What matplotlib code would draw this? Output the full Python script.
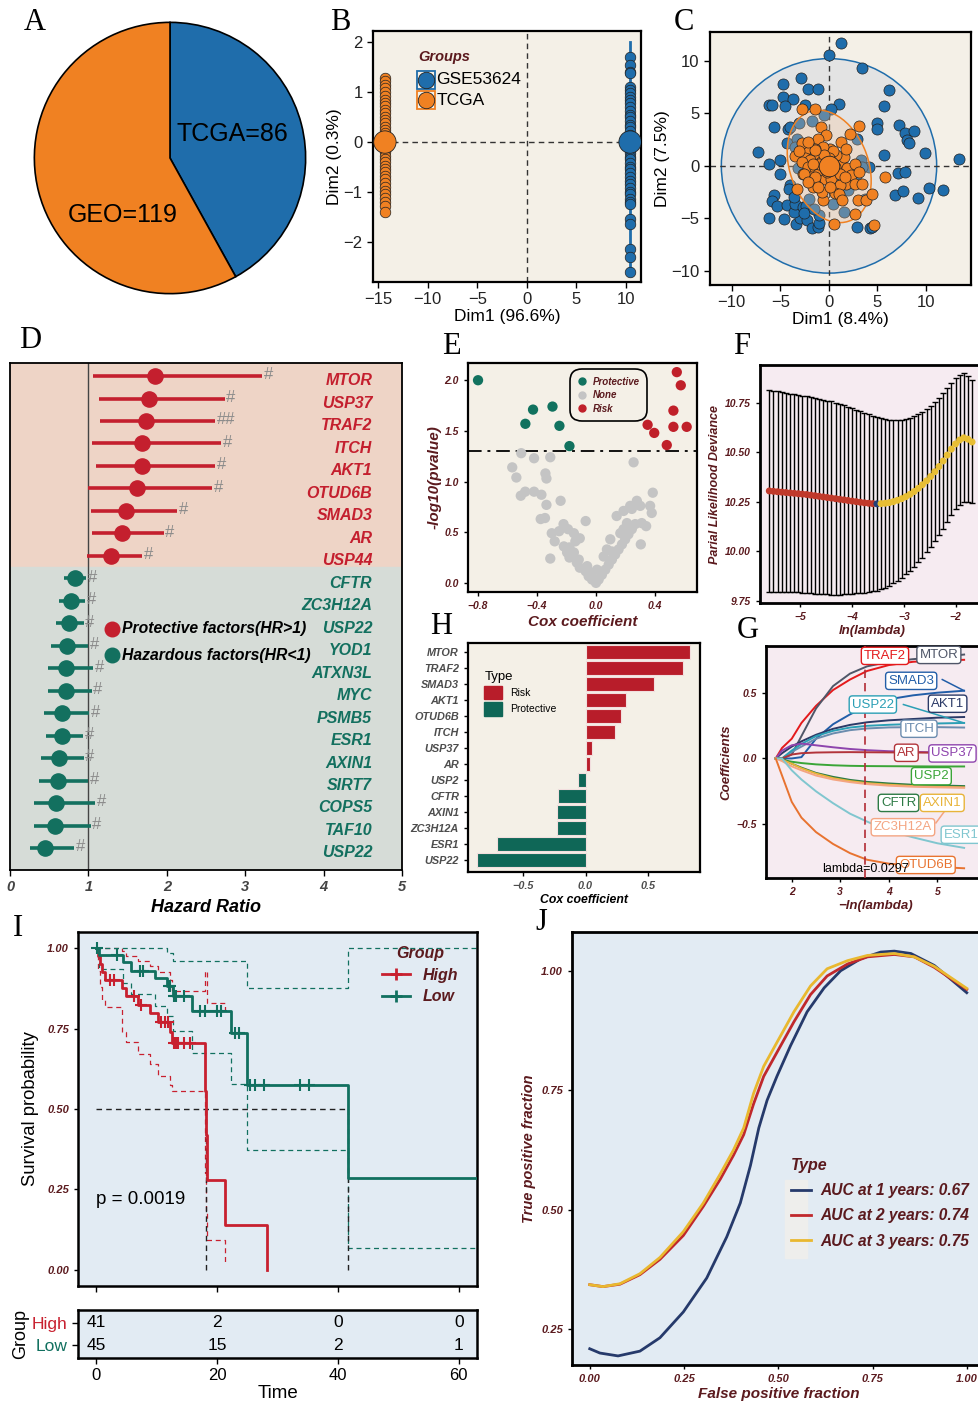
import numpy as np
import matplotlib
matplotlib.use('Agg')
import matplotlib.pyplot as plt
from matplotlib.patches import Ellipse, Rectangle, Patch
from matplotlib.lines import Line2D

plt.rcParams['font.family'] = ['Liberation Sans', 'DejaVu Sans']

# ---------------- data ----------------
# A - sample counts
pie_labels = ['TCGA=86', 'GEO=119']
pie_counts = [86, 119]

# B - PCA before batch correction
b_tcga_dim1 = -14.3
b_gse_dim1 = 10.4
b_tcga_dim2 = [1.28, 1.22, 1.15, 1.08, 1.0, 0.92, 0.85, 0.78, 0.72, 0.65, 0.58, 0.5, 0.45, 0.38,
               0.3, 0.25, 0.18, 0.12, 0.05, -0.02, -0.08, -0.15, -0.2, -0.28, -0.35, -0.4, -0.48,
               -0.55, -0.6, -0.68, -0.75, -0.82, -0.9, -0.98, -1.05, -1.12, -1.2, -1.28, -1.4]
b_gse_dim2 = [1.7, 1.55, 1.4, 1.38, 1.1, 1.05, 0.98, 0.9, 0.85, 0.78, 0.7, 0.62, 0.55, 0.5, 0.42,
              0.35, 0.3, 0.22, 0.15, 0.1, 0.05, -0.02, -0.08, -0.15, -0.22, -0.3, -0.35, -0.42,
              -0.5, -0.55, -0.62, -0.7, -0.78, -0.85, -0.92, -1.0, -1.05, -1.15, -1.2, -1.25,
              -1.55, -1.65, -2.15, -2.3, -2.6]
b_tcga_span = [-1.42, 1.30]
b_gse_span = [-2.65, 2.00]

# C - PCA after batch correction
c_gse_xy = [(1.24, 11.7), (0.03, 10.5), (3.44, 9.27), (-2.82, 8.38), (-4.74, 7.75), (-2.13, 7.27),
            (-1.1, 7.27), (6.22, 7.24), (-4.74, 6.57), (-3.64, 6.32), (-6.19, 5.75), (-5.84, 5.75),
            (-4.54, 5.68), (-2.47, 5.75), (1.03, 5.9), (0.21, 5.4), (5.67, 5.68), (4.95, 4.03),
            (4.98, 3.46), (7.28, 3.9), (7.87, 3.08), (8.8, 3.33), (8.08, 2.44), (8.32, 2.19),
            (-5.64, 3.65), (-4.19, 3.49), (-4.02, 3.71), (-7.29, 1.33), (-5.05, 0.6), (-6.12, 0.16),
            (-4.98, -0.73), (5.7, 1.02), (9.97, 1.24), (13.4, 0.63), (7.18, -0.67), (7.87, -0.54),
            (6.87, -2.73), (7.66, -2.35), (10.38, -2.1), (11.75, -2.25), (9.21, -3.02), (-5.6, -2.73),
            (-5.81, -3.33), (-5.29, -3.81), (-4.33, -3.68), (-6.19, -4.98), (-4.64, -5.08),
            (-3.33, -5.49), (-2.92, -4.92), (-2.27, -5.17), (-1.72, -5.94), (-1.07, -5.81),
            (-0.96, -5.43), (-1.03, -4.7), (-3.57, -4.38), (-3.44, -3.59), (-4.02, -1.84),
            (-4.09, -2.16), (-3.57, -2.95), (-2.65, -3.9), (-2.3, -3.84), (-2.5, -4.48),
            (2.89, -5.78), (4.3, -5.94), (4.47, -5.81), (2.92, 2.54), (1.58, -4.38), (1.79, -1.68),
            (3.37, 0.6), (4.19, -0.1), (1.13, -1.14), (-3.09, 4.03), (-1.72, 4.29), (-0.48, 4.83),
            (-4.26, 2.19), (-3.23, 2.51), (-3.16, -0.16), (-3.44, 1.81), (-1.51, -4.06),
            (-2.06, -3.11), (0.48, -3.59), (3.78, -3.17), (2.78, -1.3), (1.99, -2.32), (3.47, -0.1)]
c_tcga_xy = [(-2.71, 5.4), (-1.37, 5.37), (-0.76, 3.71), (-0.24, 2.92), (-1.1, 2.51), (1.31, 2.25),
             (2.23, 3.02), (3.13, 3.78), (0.1, 1.65), (-0.58, 1.81), (-1.44, 1.56), (-2.47, 1.49),
             (-3.51, 0.92), (-2.41, 0.79), (-1.37, 0.92), (-1.96, 0.54), (-2.75, 0.38), (-2.13, -0.1),
             (-1.37, -0.25), (-0.76, -0.41), (-1.1, -0.79), (-2.61, -0.79), (-1.79, -1.05),
             (-1.24, -1.37), (-0.41, -1.27), (0.27, -1.21), (0.89, -0.41), (1.24, 0.38), (1.58, 0.86),
             (0.79, 1.02), (0.45, 1.43), (1.92, -0.16), (2.34, -0.89), (1.82, -1.68), (2.68, -1.68),
             (3.44, -1.68), (1.13, -1.84), (0.62, -2.57), (1.03, -2.63), (1.37, -3.21), (3.02, -3.21),
             (3.81, -3.21), (4.47, -2.63), (2.68, -4.54), (0.52, -5.49), (4.64, -5.65), (5.77, -1.05),
             (-0.58, -3.27), (-0.65, -2.44), (-1.62, -2.0), (-2.54, -0.79), (-3.3, -2.16),
             (-0.24, 0.22), (0.34, 0.22), (-0.14, -0.57), (-0.76, 0.38), (0.0, 0.7), (-0.48, 1.02),
             (-0.41, -0.25), (0.62, -0.1), (1.13, -0.73), (-1.0, 0.22), (-1.58, 0.22), (-1.37, 1.49),
             (-2.75, 2.13), (-2.13, 2.29), (-3.09, 1.43), (1.82, 1.65), (2.68, 0.22), (3.09, -0.57),
             (0.1, -2.0), (1.65, -1.05), (-1.44, -1.05), (-2.13, -1.52), (-1.1, -2.0)]
c_gse_ellipse = (0.03, 0.0, 22.2, 20.4, 0)      # cx, cy, width, height, angle
c_tcga_ellipse = (0.05, -0.05, 11.2, 8.0, -65)

# D - univariate Cox
d_genes = ['MTOR', 'USP37', 'TRAF2', 'ITCH', 'AKT1', 'OTUD6B', 'SMAD3', 'AR', 'USP44', 'CFTR',
           'ZC3H12A', 'USP22', 'YOD1', 'ATXN3L', 'MYC', 'PSMB5', 'ESR1', 'AXIN1', 'SIRT7',
           'COPS5', 'TAF10', 'USP22']
d_hr = [1.85, 1.77, 1.74, 1.69, 1.69, 1.62, 1.48, 1.43, 1.29, 0.83, 0.78, 0.75, 0.73, 0.72,
        0.72, 0.66, 0.66, 0.62, 0.61, 0.59, 0.57, 0.45]
d_low = [1.06, 1.14, 1.15, 1.05, 1.10, 1.00, 1.03, 1.04, 0.98, 0.69, 0.63, 0.59, 0.52, 0.49,
         0.49, 0.43, 0.46, 0.40, 0.37, 0.31, 0.31, 0.25]
d_high = [3.22, 2.74, 2.62, 2.69, 2.62, 2.58, 2.13, 1.96, 1.69, 0.97, 0.96, 0.94, 1.00, 1.06,
          1.04, 1.01, 0.93, 0.94, 1.00, 1.09, 1.03, 0.82]
d_sig = ['#', '#', '##', '#', '#', '#', '#', '#', '#', '#', '#', '#', '#', '#', '#', '#', '#',
         '#', '#', '#', '#', '#']
d_n_risk = 9

# E - volcano
e_prot = [(-0.80, 2.0), (-0.427, 1.71), (-0.479, 1.57), (-0.295, 1.74), (-0.248, 1.55), (-0.18, 1.35)]
e_risk = [(0.548, 2.08), (0.575, 1.95), (0.525, 1.70), (0.35, 1.56), (0.395, 1.48), (0.525, 1.54),
          (0.615, 1.54), (0.48, 1.36)]
e_none = [(-0.507, 1.28), (-0.42, 1.23), (-0.31, 1.24), (-0.568, 1.14), (-0.54, 1.04), (-0.343, 1.08),
          (-0.336, 1.03), (-0.51, 0.86), (-0.48, 0.90), (-0.42, 0.90), (-0.37, 0.87), (-0.336, 0.77),
          (-0.24, 0.81), (-0.375, 0.63), (-0.346, 0.64), (-0.22, 0.58), (-0.25, 0.51), (-0.30, 0.49),
          (-0.28, 0.41), (-0.31, 0.24), (-0.07, 0.61), (-0.19, 0.53), (-0.15, 0.49), (-0.11, 0.44),
          (-0.14, 0.41), (-0.18, 0.35), (-0.15, 0.30), (-0.18, 0.25), (-0.13, 0.20), (-0.11, 0.15),
          (-0.07, 0.115), (-0.05, 0.066), (-0.027, 0.033), (0.0, 0.0), (0.018, 0.033), (0.04, 0.08),
          (0.063, 0.13), (0.086, 0.18), (0.108, 0.23), (0.13, 0.28), (0.153, 0.33), (0.108, 0.31),
          (0.176, 0.38), (0.198, 0.43), (0.22, 0.48), (0.243, 0.53), (0.266, 0.58), (0.14, 0.66),
          (0.187, 0.71), (0.232, 0.76), (0.277, 0.81), (0.243, 0.73), (0.30, 0.76), (0.367, 0.76),
          (0.385, 0.89), (0.378, 0.69), (0.31, 0.59), (0.34, 0.56), (0.304, 0.38), (0.255, 1.19),
          (0.097, 0.43), (0.074, 0.33), (0.052, 0.26), (0.187, 0.53), (0.21, 0.59), (0.165, 0.49),
          (0.007, 0.13), (-0.027, 0.10), (-0.06, 0.165), (-0.117, 0.23), (-0.196, 0.30), (-0.218, 0.36)]
e_cutoff = 1.3

# F - LASSO cross validation
f_loglam = [-5.60, -5.52, -5.44, -5.36, -5.28, -5.20, -5.12, -5.04, -4.96, -4.88, -4.80, -4.72,
            -4.64, -4.56, -4.48, -4.40, -4.32, -4.24, -4.16, -4.08, -4.00, -3.92, -3.84, -3.76,
            -3.68, -3.60, -3.52, -3.44, -3.36, -3.28, -3.20, -3.12, -3.04, -2.96, -2.88, -2.80,
            -2.72, -2.64, -2.56, -2.48, -2.40, -2.32, -2.24, -2.16, -2.08, -2.00, -1.92, -1.84,
            -1.76, -1.68]
f_mean = [10.305, 10.303, 10.301, 10.299, 10.297, 10.295, 10.293, 10.291, 10.289, 10.287, 10.284,
          10.281, 10.278, 10.275, 10.272, 10.269, 10.266, 10.263, 10.260, 10.257, 10.254, 10.251,
          10.248, 10.245, 10.243, 10.241, 10.240, 10.241, 10.243, 10.246, 10.251, 10.258, 10.266,
          10.276, 10.288, 10.302, 10.318, 10.336, 10.356, 10.378, 10.402, 10.428, 10.456, 10.486,
          10.516, 10.542, 10.562, 10.573, 10.566, 10.552]
f_sd = [0.510, 0.508, 0.506, 0.504, 0.502, 0.500, 0.499, 0.498, 0.497, 0.496, 0.495, 0.494, 0.493,
        0.491, 0.489, 0.487, 0.484, 0.481, 0.477, 0.473, 0.468, 0.463, 0.458, 0.453, 0.448, 0.443,
        0.438, 0.432, 0.426, 0.419, 0.412, 0.405, 0.398, 0.391, 0.385, 0.379, 0.373, 0.367, 0.361,
        0.356, 0.351, 0.346, 0.341, 0.337, 0.333, 0.330, 0.327, 0.325, 0.318, 0.310]

# G - LASSO coefficient paths
g_x = [1.67, 1.8, 2.0, 2.2, 2.5, 2.85, 3.2, 3.55, 4.0, 4.5, 5.0, 5.55]
g_paths = {
    'TRAF2': [0, 0.08, 0.15, 0.27, 0.40, 0.52, 0.60, 0.665, 0.71, 0.735, 0.745, 0.75],
    'MTOR': [0, 0, 0.03, 0.17, 0.38, 0.55, 0.645, 0.70, 0.735, 0.755, 0.77, 0.79],
    'SMAD3': [0, 0, 0, 0.01, 0.15, 0.26, 0.335, 0.40, 0.45, 0.48, 0.50, 0.515],
    'AKT1': [0, 0.04, 0.09, 0.13, 0.18, 0.225, 0.255, 0.275, 0.29, 0.30, 0.31, 0.315],
    'ITCH': [0, 0, 0.05, 0.09, 0.15, 0.19, 0.215, 0.228, 0.236, 0.238, 0.238, 0.235],
    'USP22': [0, 0, 0.06, 0.11, 0.17, 0.21, 0.235, 0.248, 0.256, 0.262, 0.266, 0.27],
    'USP37': [0, 0.06, 0.10, 0.113, 0.10, 0.085, 0.072, 0.063, 0.055, 0.05, 0.046, 0.043],
    'AR': [0, 0, 0.03, 0.04, 0.045, 0.047, 0.048, 0.047, 0.046, 0.045, 0.044, 0.043],
    'USP2': [0, -0.01, -0.025, -0.035, -0.045, -0.052, -0.056, -0.058, -0.059, -0.06, -0.061, -0.061],
    'CFTR': [0, 0, -0.04, -0.07, -0.11, -0.14, -0.163, -0.178, -0.19, -0.2, -0.205, -0.21],
    'AXIN1': [0, -0.01, -0.04, -0.075, -0.115, -0.15, -0.172, -0.188, -0.2, -0.21, -0.216, -0.22],
    'ZC3H12A': [0, -0.02, -0.06, -0.09, -0.13, -0.16, -0.18, -0.195, -0.207, -0.215, -0.22, -0.223],
    'ESR1': [0, 0, -0.09, -0.16, -0.25, -0.34, -0.42, -0.48, -0.55, -0.60, -0.645, -0.68],
    'OTUD6B': [0, -0.13, -0.33, -0.45, -0.56, -0.65, -0.72, -0.77, -0.80, -0.815, -0.825, -0.835],
}
g_label_pos = {'TRAF2': (3.92, 0.78), 'MTOR': (5.03, 0.787), 'SMAD3': (4.46, 0.59),
               'USP22': (3.67, 0.41), 'AKT1': (5.21, 0.416), 'ITCH': (4.62, 0.226),
               'AR': (4.36, 0.043), 'USP37': (5.31, 0.038), 'USP2': (4.875, -0.135),
               'CFTR': (4.2, -0.338), 'AXIN1': (5.10, -0.338), 'ZC3H12A': (4.29, -0.523),
               'ESR1': (5.49, -0.58), 'OTUD6B': (4.76, -0.81)}
g_lambda_min = 0.0297

# H - multivariate Cox coefficients
h_genes = ['MTOR', 'TRAF2', 'SMAD3', 'AKT1', 'OTUD6B', 'ITCH', 'USP37', 'AR', 'USP2', 'CFTR',
           'AXIN1', 'ZC3H12A', 'ESR1', 'USP22']
h_coef = [0.835, 0.776, 0.547, 0.323, 0.28, 0.235, 0.048, 0.035, -0.059, -0.219, -0.229,
          -0.232, -0.709, -0.864]

# I - Kaplan-Meier
i_high_t = [0, 0.3, 0.6, 1.0, 1.4, 4.2, 5.0, 6.9, 8.9, 10.2, 12.2, 12.6, 18.0, 18.2, 18.4, 21.3, 28.3]
i_high_s = [1.0, 0.976, 0.951, 0.927, 0.902, 0.877, 0.851, 0.824, 0.797, 0.769, 0.739, 0.705,
            0.557, 0.418, 0.279, 0.139, 0.0]
i_high_up_t = [0, 4.2, 5.0, 6.9, 8.9, 10.2, 12.2, 12.6, 18.0, 18.4, 21.3]
i_high_up_s = [1.0, 0.99, 0.975, 0.96, 0.945, 0.925, 0.90, 0.868, 0.93, 0.83, 0.80]
i_high_lo_t = [0, 0.3, 0.6, 1.0, 1.4, 4.2, 5.0, 6.9, 8.9, 10.2, 12.2, 12.6, 18.0, 18.2, 18.4, 21.3]
i_high_lo_s = [1.0, 0.93, 0.88, 0.84, 0.816, 0.738, 0.707, 0.671, 0.64, 0.604, 0.575, 0.556,
               0.30, 0.18, 0.093, 0.02]
i_high_cens = [2.3, 2.9, 6.2, 7.4, 10.8, 11.4, 11.9, 12.8, 13.2, 13.6, 14.5, 15.5]
i_low_t = [0, 0.4, 4.5, 5.8, 9.8, 11.8, 12.7, 15.8, 22.3, 25.0, 41.6, 63]
i_low_s = [1.0, 0.978, 0.956, 0.93, 0.906, 0.881, 0.852, 0.804, 0.737, 0.575, 0.286, 0.286]
i_low_up_t = [0, 11.8, 12.7, 25.0, 41.6, 63]
i_low_up_s = [1.0, 0.985, 0.96, 0.875, 1.0, 1.0]
i_low_lo_t = [0, 0.4, 4.5, 5.8, 9.8, 11.8, 12.7, 15.8, 22.3, 25.0, 41.6, 63]
i_low_lo_s = [1.0, 0.935, 0.893, 0.857, 0.821, 0.79, 0.743, 0.675, 0.578, 0.372, 0.067, 0.067]
i_low_cens = [0.2, 3.5, 7.3, 7.8, 12.0, 12.3, 12.9, 13.2, 14.5, 17.2, 18.0, 20.0, 20.6, 23.0,
              23.6, 25.5, 26.3, 27.8, 33.8, 35.2]
i_medians = [18.2, 41.6]
i_table_t = [0, 20, 40, 60]
i_table_high = [41, 2, 0, 0]
i_table_low = [45, 15, 2, 1]

# J - time dependent ROC
j_x1 = [0, 0.027, 0.075, 0.133, 0.186, 0.248, 0.31, 0.363, 0.399, 0.426, 0.448, 0.47, 0.496,
        0.532, 0.576, 0.621, 0.665, 0.718, 0.771, 0.807, 0.851, 0.913, 0.957, 0.999]
j_y1 = [0.209, 0.2, 0.194, 0.204, 0.232, 0.286, 0.357, 0.443, 0.514, 0.593, 0.671, 0.729, 0.779,
        0.843, 0.914, 0.964, 1.0, 1.025, 1.039, 1.041, 1.036, 1.011, 0.982, 0.954]
j_x2 = [0, 0.035, 0.08, 0.133, 0.186, 0.248, 0.301, 0.346, 0.381, 0.408, 0.434, 0.461, 0.496,
        0.541, 0.585, 0.629, 0.683, 0.736, 0.807, 0.86, 0.913, 0.999]
j_y2 = [0.343, 0.339, 0.344, 0.364, 0.396, 0.446, 0.507, 0.564, 0.614, 0.657, 0.721, 0.779,
        0.829, 0.893, 0.95, 0.989, 1.014, 1.029, 1.034, 1.029, 1.007, 0.961]
j_y3 = [0.343, 0.339, 0.345, 0.366, 0.4, 0.454, 0.514, 0.575, 0.625, 0.671, 0.743, 0.8, 0.85,
        0.914, 0.968, 1.004, 1.021, 1.032, 1.036, 1.029, 1.009, 0.963]
j_labels = ['AUC at 1 years: 0.67', 'AUC at 2 years: 0.74', 'AUC at 3 years: 0.75']

# ---------------- style ----------------
BLUE = '#1f6dab'
ORANGE = '#f08122'
BEIGE = '#f4f0e7'
PINK = '#f6ebf1'
LBLUE = '#e2ebf3'
BR = '#5b1a1e'
RED = '#c41f2e'
TEAL = '#13705f'
GRAY = '#c4c4c4'
BI = dict(fontweight='bold', fontstyle='italic')

W, H = 979, 1404
fig = plt.figure(figsize=(W / 100, H / 100), dpi=100)


def add_ax(x0, y0, x1, y1):
    return fig.add_axes([x0 / W, 1 - y1 / H, (x1 - x0) / W, (y1 - y0) / H])


def letter(x, y, s):
    fig.text(x / W, 1 - y / H, s, family='Liberation Serif', fontsize=22, ha='center', va='center')


def frame(ax, lw=1.6):
    for sp in ax.spines.values():
        sp.set_linewidth(lw)
        sp.set_color('black')


def bi_ticks(ax, size, color):
    for t in ax.get_xticklabels() + ax.get_yticklabels():
        t.set_fontweight('bold')
        t.set_fontstyle('italic')
        t.set_fontsize(size)
        t.set_color(color)


# ---------- A ----------
ax = add_ax(33, 21, 307, 295)
ax.pie(pie_counts, colors=[BLUE, ORANGE], startangle=90, counterclock=False,
       wedgeprops=dict(edgecolor='black', linewidth=1.2))
ax.set_xlim(-1.01, 1.01)
ax.set_ylim(-1.01, 1.01)
ax.text(0.46, 0.18, pie_labels[0], fontsize=18, ha='center', va='center')
ax.text(-0.35, -0.42, pie_labels[1], fontsize=18, ha='center', va='center')
letter(35, 22, 'A')

# ---------- B ----------
ax = add_ax(373, 31, 641, 282)
ax.set_facecolor(BEIGE)
ax.axhline(0, color='#333333', lw=1, ls=(0, (4, 3)), zorder=1)
ax.axvline(0, color='#333333', lw=1, ls=(0, (4, 3)), zorder=1)
ax.plot([b_tcga_dim1] * 2, b_tcga_span, color=ORANGE, lw=2, zorder=2)
ax.plot([b_gse_dim1] * 2, b_gse_span, color=BLUE, lw=2, zorder=2)
ax.scatter([b_tcga_dim1] * len(b_tcga_dim2), b_tcga_dim2, s=58, c=ORANGE, edgecolors='#222222',
           linewidths=0.5, zorder=3)
ax.scatter([b_gse_dim1] * len(b_gse_dim2), b_gse_dim2, s=58, c=BLUE, edgecolors='#222222',
           linewidths=0.5, zorder=3)
ax.scatter([b_tcga_dim1, b_gse_dim1], [0, 0], s=260, c=[ORANGE, BLUE], edgecolors='#222222',
           linewidths=0.6, zorder=4)
ax.set_xlim(-15.5, 11.5)
ax.set_ylim(-2.81, 2.23)
ax.set_xticks([-15, -10, -5, 0, 5, 10])
ax.set_yticks([-2, -1, 0, 1, 2])
ax.tick_params(labelsize=12, length=4, width=1, labelcolor='#222222')
ax.set_xlabel('Dim1 (96.6%)', fontsize=12.5, labelpad=1)
ax.set_ylabel('Dim2 (0.3%)', fontsize=12.5, labelpad=1)
frame(ax)
ax.text(0.168, 0.896, 'Groups', transform=ax.transAxes, color=BR, fontsize=10.5, va='center', **BI)
for yy, lab, col in [(0.805, 'GSE53624', BLUE), (0.725, 'TCGA', ORANGE)]:
    ax.add_patch(Rectangle((0.165, yy - 0.037), 0.066, 0.074, transform=ax.transAxes,
                           fill=False, edgecolor=col, lw=1.3, zorder=5))
    ax.scatter([0.198], [yy], s=140, c=col, edgecolors='#222222', linewidths=0.6,
               transform=ax.transAxes, zorder=6)
    ax.text(0.236, yy, lab, transform=ax.transAxes, fontsize=12.5, va='center')
letter(340, 22, 'B')

# ---------- C ----------
ax = add_ax(710, 32, 971, 285)
ax.set_facecolor(BEIGE)
cx, cy, cw, chh, ca = c_gse_ellipse
ax.add_patch(Ellipse((cx, cy), cw, chh, angle=ca, facecolor='#e3e3e3', edgecolor=BLUE, lw=1.1, zorder=1))
ax.axhline(0, color='#333333', lw=1, ls=(0, (4, 3)), zorder=1.5)
ax.axvline(0, color='#333333', lw=1, ls=(0, (4, 3)), zorder=1.5)
gx, gy = np.array(c_gse_xy).T
ax.scatter(gx, gy, s=64, c=BLUE, edgecolors='#222222', linewidths=0.5, zorder=2)
tx_, ty_, tw_, th_, ta_ = c_tcga_ellipse
ax.add_patch(Ellipse((tx_, ty_), tw_, th_, angle=ta_, facecolor='#f7c89c', alpha=0.3,
                     edgecolor='none', zorder=3))
ax.add_patch(Ellipse((tx_, ty_), tw_, th_, angle=ta_, facecolor='none', edgecolor=ORANGE,
                     lw=1.1, zorder=3))
ox, oy = np.array(c_tcga_xy).T
ax.scatter(ox, oy, s=64, c=ORANGE, edgecolors='#222222', linewidths=0.5, zorder=4)
ax.scatter([0], [0], s=220, c=ORANGE, edgecolors='#222222', linewidths=0.6, zorder=5)
ax.set_xlim(-12.24, 14.67)
ax.set_ylim(-11.33, 12.73)
ax.set_xticks([-10, -5, 0, 5, 10])
ax.set_yticks([-10, -5, 0, 5, 10])
ax.tick_params(labelsize=12, length=4, width=1, labelcolor='#222222')
ax.set_xlabel('Dim1 (8.4%)', fontsize=12.5, labelpad=1)
ax.set_ylabel('Dim2 (7.5%)', fontsize=12.5, labelpad=1)
frame(ax)
letter(684, 22, 'C')

# ---------- D ----------
ax = add_ax(10, 363, 402, 870)
n = len(d_genes)
rows = np.arange(n)[::-1]
ax.axhspan(rows[d_n_risk - 1] - 0.5, 30, color='#eed4c6', zorder=0)
ax.axhspan(-5, rows[d_n_risk - 1] - 0.5, color='#d6dcd7', zorder=0)
ax.axvline(1, color='#444444', lw=1, zorder=1)
for i in range(n):
    col = RED if i < d_n_risk else TEAL
    y = rows[i]
    ax.plot([d_low[i], d_high[i]], [y, y], color=col, lw=2.6, zorder=2, solid_capstyle='butt')
    ax.scatter([d_hr[i]], [y], s=120, color=col, zorder=3)
    ax.text(d_high[i] + 0.02, y + 0.05, d_sig[i], color='#8a8a8a', fontsize=12, va='center', zorder=4)
    ax.text(4.62, y - 0.22, d_genes[i], color=col, fontsize=11.5, ha='right', va='center', **BI)
ax.scatter([1.30], [9.75], s=110, color=RED, zorder=3)
ax.scatter([1.30], [8.57], s=110, color=TEAL, zorder=3)
ax.text(1.43, 9.75, 'Protective factors(HR>1)', fontsize=11.3, va='center', **BI)
ax.text(1.43, 8.57, 'Hazardous factors(HR<1)', fontsize=11.3, va='center', **BI)
ax.set_xlim(0, 5)
ax.set_ylim(-0.98, 21.58)
ax.set_yticks([])
ax.set_xticks([0, 1, 2, 3, 4, 5])
ax.tick_params(axis='x', length=4, width=1)
bi_ticks(ax, 10.5, '#444444')
ax.set_xlabel('Hazard Ratio', fontsize=13, labelpad=3, **BI)
frame(ax, 1.3)
letter(30, 341, 'D')

# ---------- E ----------
ax = add_ax(468, 363, 697, 592)
ax.set_facecolor(BEIGE)
nx, ny = np.array(e_none).T
px, py = np.array(e_prot).T
rx, ry = np.array(e_risk).T
ax.scatter(nx, ny, s=55, c=GRAY, edgecolors='none', zorder=2, label='None')
ax.scatter(px, py, s=55, c='#11725f', edgecolors='none', zorder=3, label='Protective')
ax.scatter(rx, ry, s=55, c='#c0202a', edgecolors='none', zorder=3, label='Risk')
ax.axhline(e_cutoff, color='#111111', lw=1.4, ls=(0, (7, 3, 1.5, 3)), zorder=1)
ax.set_xlim(-0.868, 0.685)
ax.set_ylim(-0.09, 2.17)
ax.set_xticks([-0.8, -0.4, 0.0, 0.4])
ax.set_yticks([0.0, 0.5, 1.0, 1.5, 2.0])
ax.set_xticklabels(['\u22120.8', '\u22120.4', '0.0', '0.4'])
ax.set_yticklabels(['0.0', '0.5', '1.0', '1.5', '2.0'])
ax.tick_params(length=3, width=1)
bi_ticks(ax, 7.5, BR)
ax.set_xlabel('Cox coefficient', fontsize=11, color=BR, labelpad=3, **BI)
ax.set_ylabel('-log10(pvalue)', fontsize=11, color=BR, labelpad=2, **BI)
frame(ax)
handles = [Line2D([], [], ls='none', marker='o', ms=5, color=c, label=l)
           for c, l in [('#11725f', 'Protective'), (GRAY, 'None'), ('#c0202a', 'Risk')]]
leg = ax.legend(handles=handles, loc='upper left', bbox_to_anchor=(0.454, 0.965), borderaxespad=0,
                prop=dict(size=7, weight='bold', style='italic'), handlelength=0.8,
                handletextpad=0.7, labelspacing=0.35, borderpad=0.6, fancybox=True,
                edgecolor='black', facecolor=BEIGE, framealpha=1)
leg.get_frame().set_linewidth(1.2)
leg.get_frame().set_boxstyle('round,pad=0.2,rounding_size=1.2')
for t in leg.get_texts():
    t.set_color(BR)
letter(451, 346, 'E')

# ---------- F ----------
ax = add_ax(760, 365, 985, 603)
ax.set_facecolor(PINK)
ax.errorbar(f_loglam, f_mean, yerr=f_sd, fmt='none', ecolor='black', elinewidth=1, capsize=2,
            capthick=1, zorder=2)
imin = int(np.argmin(f_mean))
fcols = ['#c0392b' if i < imin else ('#24407a' if i == imin else '#e8be34') for i in range(len(f_mean))]
ax.scatter(f_loglam, f_mean, s=16, c=fcols, zorder=3)
ax.set_xlim(-5.78, -1.43)
ax.set_ylim(9.74, 10.94)
ax.set_xticks([-5, -4, -3, -2])
ax.set_yticks([9.75, 10.0, 10.25, 10.5, 10.75])
ax.set_xticklabels(['\u22125', '\u22124', '\u22123', '\u22122'])
ax.set_yticklabels(['9.75', '10.00', '10.25', '10.50', '10.75'])
ax.tick_params(length=3, width=1)
bi_ticks(ax, 7.5, BR)
ax.set_xlabel('ln(lambda)', fontsize=9.5, color=BR, labelpad=2, **BI)
ax.set_ylabel('Parial Likelihood Deviance', fontsize=9, color=BR, labelpad=3, **BI)
frame(ax, 2)
letter(742, 346, 'F')

# ---------- G ----------
ax = add_ax(766, 646, 985, 878)
ax.set_facecolor(PINK)
g_colors = {'TRAF2': '#e41a1c', 'MTOR': '#4f5668', 'SMAD3': '#225ea8', 'AKT1': '#2b3a67',
            'ITCH': '#6b8cae', 'USP22': '#2b9fb5', 'USP37': '#8e44ad', 'AR': '#b2343a',
            'USP2': '#3aa537', 'CFTR': '#2d7a45', 'AXIN1': '#e8b43a', 'ZC3H12A': '#f4a582',
            'ESR1': '#80c6cf', 'OTUD6B': '#e87330'}
for g, vals in g_paths.items():
    ax.plot(g_x, vals, color=g_colors[g], lw=1.4, zorder=2)
ax.axvline(-np.log(g_lambda_min), color='#b22b35', lw=1.2, ls=(0, (5, 3)), zorder=3)
ax.plot([5.1, 5.55], [0.6, g_paths['SMAD3'][-1]], color=g_colors['SMAD3'], lw=1.1, zorder=3)
ax.plot([4.3, 5.55], [0.41, g_paths['USP22'][-1]], color=g_colors['USP22'], lw=1.1, zorder=3)
ax.plot([4.97, 5.17], [-0.49, -0.39], color=g_colors['ZC3H12A'], lw=1.1, zorder=3)
for g, (lx, ly) in g_label_pos.items():
    ax.text(lx, ly, g, color=g_colors[g], fontsize=9.5, ha='center', va='center', zorder=5,
            bbox=dict(boxstyle='round,pad=0.2,rounding_size=0.25', fc='white', ec=g_colors[g], lw=1))
ax.text(-np.log(g_lambda_min), -0.84, 'lambda=%.4f' % g_lambda_min, fontsize=9, ha='center',
        va='center', zorder=6)
ax.set_xlim(1.47, 5.98)
ax.set_ylim(-0.909, 0.855)
ax.set_xticks([2, 3, 4, 5])
ax.set_yticks([-0.5, 0.0, 0.5])
ax.set_yticklabels(['\u22120.5', '0.0', '0.5'])
ax.tick_params(length=3, width=1)
bi_ticks(ax, 7.5, BR)
ax.set_xlabel('\u2212ln(lambda)', fontsize=9.5, color=BR, labelpad=2, **BI)
ax.set_ylabel('Coefficients', fontsize=9.5, color=BR, labelpad=3, **BI)
frame(ax, 2)
letter(748, 631, 'G')

# ---------- H ----------
ax = add_ax(468, 643, 700, 872)
ax.set_facecolor(BEIGE)
hy = np.arange(len(h_genes))[::-1]
hcols = ['#b81d2a' if c > 0 else '#0f6757' for c in h_coef]
ax.barh(hy, h_coef, height=0.92, color=hcols, edgecolor='#f2dede', linewidth=0.8, zorder=2)
ax.set_ylim(-0.75, 13.56)
ax.set_xlim(-0.94, 0.916)
ax.set_yticks(hy)
ax.set_yticklabels(h_genes)
ax.set_xticks([-0.5, 0.0, 0.5])
ax.set_xticklabels(['\u22120.5', '0.0', '0.5'])
ax.tick_params(length=3, width=1)
bi_ticks(ax, 7.8, '#4d4d4d')
ax.set_xlabel('Cox coefficient', fontsize=8.8, labelpad=2, **BI)
frame(ax, 1.6)
hleg = ax.legend(handles=[Patch(color='#b81d2a', label='Risk'), Patch(color='#0f6757', label='Protective')],
                 title='Type', loc='upper left', bbox_to_anchor=(0.03, 0.92), frameon=False,
                 fontsize=7.5, title_fontsize=9.5, handlelength=1.7, handleheight=1.6,
                 labelspacing=0.3, handletextpad=0.8)
hleg._legend_box.align = 'left'
letter(441, 626, 'H')

# ---------- I ----------
KM_RED = '#c8202f'
KM_TEAL = '#11705f'
ax = add_ax(78, 932, 477, 1286)
ax.set_facecolor(LBLUE)
dash = (0, (4, 3))
for tt, ss in [(i_high_up_t, i_high_up_s), (i_high_lo_t, i_high_lo_s)]:
    ax.step(tt, ss, where='post', color=KM_RED, lw=0.9, ls=dash, zorder=2)
for tt, ss in [(i_low_up_t, i_low_up_s), (i_low_lo_t, i_low_lo_s)]:
    ax.step(tt, ss, where='post', color=KM_TEAL, lw=0.9, ls=dash, zorder=2)
ax.plot([0, i_medians[1]], [0.5, 0.5], color='#222222', lw=1, ls=dash, zorder=3)
for m in i_medians:
    ax.plot([m, m], [0, 0.5], color='#222222', lw=1, ls=dash, zorder=3)
ax.step(i_high_t, i_high_s, where='post', color=KM_RED, lw=2, zorder=4)
ax.step(i_low_t, i_low_s, where='post', color=KM_TEAL, lw=2, zorder=4)
for cens, tt, ss, col in [(i_high_cens, i_high_t, i_high_s, KM_RED), (i_low_cens, i_low_t, i_low_s, KM_TEAL)]:
    idx = np.searchsorted(tt, cens, side='right') - 1
    ax.plot(cens, np.asarray(ss)[idx], ls='none', marker='+', ms=8, mew=1.5, color=col, zorder=5)
ax.text(0, 0.22, 'p = 0.0019', fontsize=13.5, va='center')
ax.set_xlim(-3, 63)
ax.set_ylim(-0.05, 1.05)
ax.set_xticks([0, 20, 40, 60])
ax.tick_params(axis='x', labelbottom=False, length=4, width=1)
ax.set_yticks([0, 0.25, 0.5, 0.75, 1.0])
ax.set_yticklabels(['0.00', '0.25', '0.50', '0.75', '1.00'])
ax.tick_params(axis='y', length=3, width=1)
bi_ticks(ax, 8, BR)
ax.set_ylabel('Survival probability', fontsize=13.3, labelpad=6)
frame(ax, 1.8)
ileg = ax.legend(handles=[Line2D([], [], color=KM_RED, lw=2, marker='+', ms=9, mew=2, label='High'),
                          Line2D([], [], color=KM_TEAL, lw=2, marker='+', ms=9, mew=2, label='Low')],
                 title='Group', loc='upper right', bbox_to_anchor=(0.99, 1.0), frameon=False,
                 prop=dict(size=11.5, weight='bold', style='italic'),
                 title_fontproperties=dict(size=11.5, weight='bold', style='italic'),
                 handlelength=1.8, labelspacing=0.4)
ileg.get_title().set_color(BR)
for t in ileg.get_texts():
    t.set_color(BR)
letter(18, 928, 'I')

axt = add_ax(78, 1310, 477, 1358)
axt.set_facecolor(LBLUE)
for t, nh, nl in zip(i_table_t, i_table_high, i_table_low):
    axt.text(t, 0.73, str(nh), fontsize=12.5, ha='center', va='center')
    axt.text(t, 0.27, str(nl), fontsize=12.5, ha='center', va='center')
axt.set_xlim(-3, 63)
axt.set_ylim(0, 1)
axt.set_xticks(i_table_t)
axt.set_yticks([0.27, 0.73])
axt.set_yticklabels(['Low', 'High'], fontsize=12.5)
axt.get_yticklabels()[0].set_color(KM_TEAL)
axt.get_yticklabels()[1].set_color(KM_RED)
axt.tick_params(axis='x', labelsize=12, length=4, width=1)
axt.tick_params(axis='y', length=4, width=1)
axt.set_xlabel('Time', fontsize=13.5, labelpad=1)
axt.set_ylabel('Group', fontsize=13, labelpad=2)
frame(axt, 1.8)

# ---------- J ----------
ax = add_ax(572, 932, 986, 1365)
ax.set_facecolor(LBLUE)
jcols = ['#263a6b', '#c0282c', '#e9b82f']
ax.plot(j_x1, j_y1, color=jcols[0], lw=2, label=j_labels[0])
ax.plot(j_x2, j_y2, color=jcols[1], lw=2, label=j_labels[1])
ax.plot(j_x2, j_y3, color=jcols[2], lw=2, label=j_labels[2])
ax.set_xlim(-0.047, 1.05)
ax.set_ylim(0.175, 1.081)
ax.set_xticks([0, 0.25, 0.5, 0.75, 1.0])
ax.set_xticklabels(['0.00', '0.25', '0.50', '0.75', '1.00'])
ax.set_yticks([0.25, 0.5, 0.75, 1.0])
ax.set_yticklabels(['0.25', '0.50', '0.75', '1.00'])
ax.tick_params(length=3, width=1)
bi_ticks(ax, 8, BR)
ax.set_xlabel('False positive fraction', fontsize=11, color=BR, labelpad=2, **BI)
ax.set_ylabel('True positive fraction', fontsize=10.5, color=BR, labelpad=4, **BI)
frame(ax, 2)
ax.add_patch(Rectangle((0.515, 0.248), 0.052, 0.18, transform=ax.transAxes, color='#eeeeec', zorder=1))
jleg = ax.legend(loc='upper left', bbox_to_anchor=(0.495, 0.51), frameon=False,
                 prop=dict(size=11.2, weight='bold', style='italic'),
                 title='Type', title_fontproperties=dict(size=11.5, weight='bold', style='italic'),
                 handlelength=1.3, labelspacing=0.65, handletextpad=0.6)
jleg._legend_box.align = 'left'
jleg.get_title().set_color(BR)
for t in jleg.get_texts():
    t.set_color(BR)
letter(541, 922, 'J')

fig.savefig('out.png', dpi=100)
